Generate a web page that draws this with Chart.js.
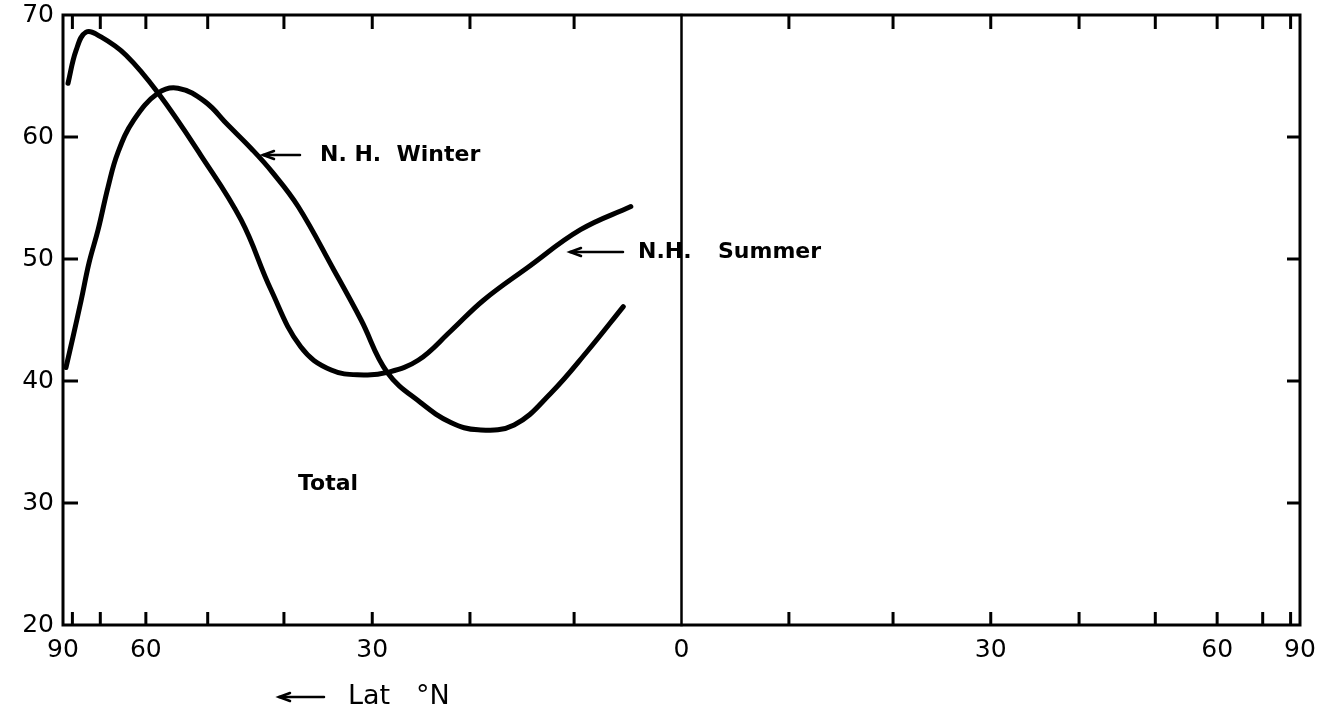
<!DOCTYPE html>
<html>
<head>
<meta charset="utf-8">
<script src="https://cdn.jsdelivr.net/npm/chart.js@4.4.1/dist/chart.umd.min.js"></script>
<style>
  html, body { margin: 0; padding: 0; background: #fff; }
  #wrap { width: 1333px; height: 708px; }
</style>
</head>
<body>
<div id="wrap"><canvas id="grafico"></canvas></div>
<script>
// latitudes (graus N) e valores
const latSummer = [82.7, 78.2, 74.3, 69.8, 63.9, 57.8, 51.0, 45.4, 41.6, 38.0, 34.5, 30.9, 28.4, 25.2, 21.9, 18.7, 14.4, 9.4, 4.7];
const valSummer = [64.4, 67.1, 68.6, 68.2, 66.7, 63.6, 58.5, 53.2, 47.5, 42.8, 40.9, 40.5, 40.7, 41.7, 44.1, 46.6, 49.3, 52.4, 54.3];

const latWinter = [84.4, 79.7, 76.1, 73.3, 70.6, 68.0, 65.7, 62.3, 57.8, 54.5, 50.4, 47.2, 44.0, 41.4, 38.3, 34.2, 31.2, 28.4, 24.9, 21.9, 19.2, 15.7, 12.2, 8.7, 5.4];
const valWinter = [41.1, 43.6, 46.6, 49.7, 52.4, 55.9, 58.7, 61.4, 63.6, 64.0, 62.9, 61.0, 59.0, 57.1, 54.3, 49.1, 45.0, 40.7, 38.2, 36.6, 36.0, 36.4, 39.0, 42.5, 46.1];

// ticks do eixo x (graus, N positivo / S negativo) e os que levam rotulo
const latTicks = [90, 80, 70, 60, 50, 40, 30, 20, 10, 0, -10, -20, -30, -40, -50, -60, -70, -80, -90];
const latLabels = [90, 60, 30, 0];
const yTicks = [20, 30, 40, 50, 60, 70];

const rad = d => d * Math.PI / 180;
const toPts = (lats, vals) => lats.map((l, i) => ({ x: Math.sin(rad(l)), y: vals[i] }));

const FONT = 'DejaVu Sans';

// moldura, equador, ticks para dentro e textos
const moldura = {
    id: 'moldura',
    afterDraw(chart) {
        const ctx = chart.ctx;
        const a = chart.chartArea;
        const sx = chart.scales.x, sy = chart.scales.y;
        ctx.save();
        ctx.strokeStyle = '#000';
        ctx.lineCap = 'square';

        ctx.lineWidth = 3;
        ctx.strokeRect(a.left, a.top, a.right - a.left, a.bottom - a.top);

        // equador
        ctx.lineWidth = 2.5;
        const x0 = sx.getPixelForValue(0);
        ctx.beginPath(); ctx.moveTo(x0, a.top); ctx.lineTo(x0, a.bottom); ctx.stroke();

        ctx.lineWidth = 3;
        ctx.lineCap = 'butt';
        latTicks.forEach(l => {
            if (Math.abs(l) === 90 || l === 0) return;
            const px = sx.getPixelForValue(Math.sin(rad(l)));
            ctx.beginPath(); ctx.moveTo(px, a.bottom); ctx.lineTo(px, a.bottom - 13); ctx.stroke();
            ctx.beginPath(); ctx.moveTo(px, a.top); ctx.lineTo(px, a.top + 14); ctx.stroke();
        });
        yTicks.forEach(v => {
            if (v === 20 || v === 70) return;
            const py = sy.getPixelForValue(v);
            ctx.beginPath(); ctx.moveTo(a.left, py); ctx.lineTo(a.left + 15, py); ctx.stroke();
            ctx.beginPath(); ctx.moveTo(a.right, py); ctx.lineTo(a.right - 13, py); ctx.stroke();
        });

        // setas
        const seta = (x1, x2, y) => {
            ctx.lineWidth = 2.5;
            ctx.lineCap = 'round';
            ctx.beginPath(); ctx.moveTo(x2, y); ctx.lineTo(x1, y); ctx.stroke();
            ctx.beginPath();
            ctx.moveTo(x1 + 11, y - 4); ctx.lineTo(x1, y); ctx.lineTo(x1 + 11, y + 4);
            ctx.stroke();
        };
        seta(263, 300, 155);
        seta(570, 623, 252);
        seta(279, 324, 697);

        ctx.fillStyle = '#000';
        ctx.textBaseline = 'middle';
        ctx.textAlign = 'left';
        ctx.font = 'bold 22px "' + FONT + '"';
        ctx.fillText('N. H.  Winter', 320, 155);
        ctx.fillText('N.H.', 638, 252);
        ctx.fillText('Summer', 718, 252);
        ctx.fillText('Total', 298, 484);
        ctx.font = '27px "' + FONT + '"';
        ctx.fillText('Lat', 348, 697);
        ctx.fillText('°N', 416, 697);
        ctx.restore();
    }
};

const linha = {
    borderColor: '#000',
    borderWidth: 5,
    pointRadius: 0,
    fill: false,
    tension: 0.4,
    borderCapStyle: 'round',
    borderJoinStyle: 'round'
};

const config = {
    type: 'line',
    data: {
        datasets: [
            Object.assign({ label: 'N.H. Summer', data: toPts(latSummer, valSummer) }, linha),
            Object.assign({ label: 'N.H. Winter', data: toPts(latWinter, valWinter) }, linha)
        ]
    },
    options: {
        responsive: true,
        maintainAspectRatio: false,
        animation: false,
        layout: { padding: { top: 15, right: 33, left: 0, bottom: 0 } },
        plugins: { legend: { display: false }, tooltip: { enabled: false } },
        scales: {
            x: {
                type: 'linear',
                reverse: true,
                min: -1,
                max: 1,
                afterBuildTicks: s => { s.ticks = latTicks.map(l => ({ value: Math.sin(rad(l)) })); },
                afterFit: s => { s.height = 83; s.paddingLeft = 0; s.paddingRight = 0; },
                grid: { display: false, drawTicks: false },
                border: { display: false },
                ticks: {
                    autoSkip: false,
                    maxRotation: 0,
                    padding: 10,
                    color: '#000',
                    font: { family: FONT, size: 25 },
                    callback: v => {
                        const l = Math.abs(Math.round(Math.asin(Math.max(-1, Math.min(1, v))) * 180 / Math.PI));
                        return latLabels.includes(l) ? String(l) : '';
                    }
                }
            },
            y: {
                min: 20,
                max: 70,
                afterBuildTicks: s => { s.ticks = yTicks.map(v => ({ value: v })); },
                afterFit: s => { s.width = 63; s.paddingTop = 0; s.paddingBottom = 0; },
                grid: { display: false, drawTicks: false },
                border: { display: false },
                ticks: {
                    padding: 9,
                    color: '#000',
                    font: { family: FONT, size: 25 }
                }
            }
        }
    },
    plugins: [moldura]
};

window.onload = function() {
    new Chart(document.getElementById('grafico'), config);
};
</script>
</body>
</html>
